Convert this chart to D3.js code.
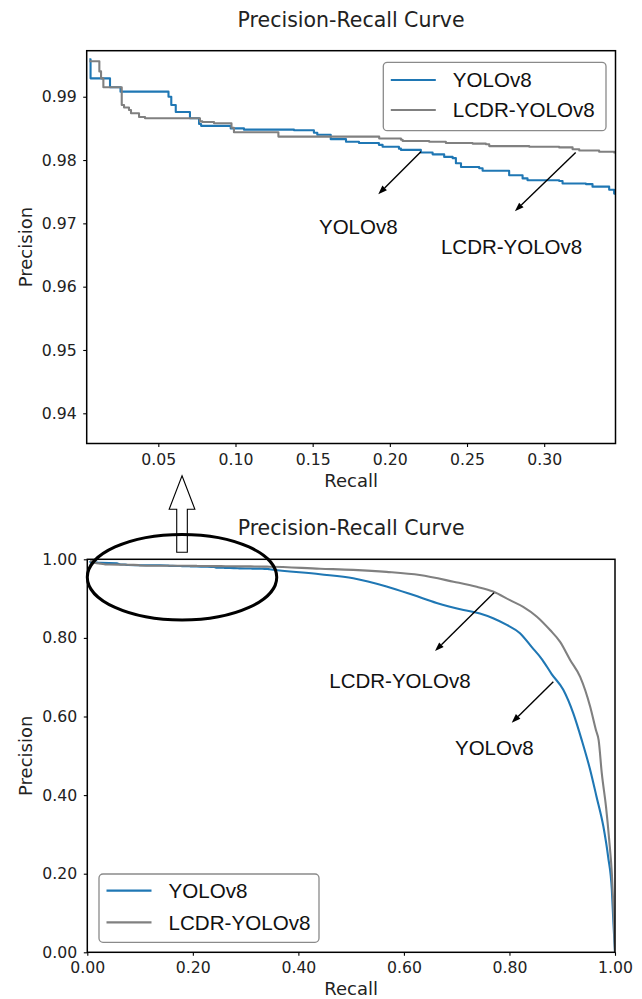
<!DOCTYPE html>
<html><head><meta charset="utf-8">
<script src="https://cdn.jsdelivr.net/npm/d3@7"></script>
<style>body{margin:0;background:#fff}svg{display:block}</style>
</head><body>
<svg id="c" width="642" height="999"></svg>
<script>
const seriesNames = ["YOLOv8", "LCDR-YOLOv8"];
const seriesColors = ["#1f77b4", "#808080"];

const yoloRecall = [0.0053,0.0061,0.0187,0.0255,0.0566,0.0584,0.0613,0.0705,0.0764,0.0777,0.0969,0.1055,0.1379,0.1508,0.1530,0.1617,0.1716,0.1800,0.1929,0.1953,0.2059,0.2072,0.2201,0.2277,0.2352,0.2407,0.2428,0.2461,0.2579,0.2601,0.2773,0.2860,0.2892,0.3097,0.3119,0.3270,0.3313,0.3421,0.3453,
  0.441,0.504,0.567,0.618,0.662,0.713,0.744,0.769,0.795,0.820,0.842,0.862,0.880,0.902,0.921,0.937,0.953,0.965,0.978,0.987,0.994,0.997,1.0];
const yoloPrecision = [0.9959,0.9929,0.9915,0.9908,0.9900,0.9887,0.9876,0.9866,0.9857,0.9854,0.9850,0.9848,0.9847,0.9843,0.9840,0.9833,0.9829,0.9827,0.9824,0.9821,0.9818,0.9816,0.9812,0.9809,0.9805,0.9803,0.9795,0.9789,0.9787,0.9783,0.9776,0.9771,0.9768,0.9767,0.9763,0.9762,0.9758,0.9753,0.9747,
  0.962,0.952,0.931,0.909,0.889,0.871,0.862,0.850,0.833,0.812,0.777,0.745,0.708,0.668,0.608,0.540,0.464,0.396,0.320,0.243,0.159,0.074,0.0];

const lcdrRecall = [0.0053,0.0118,0.0129,0.0144,0.0263,0.0278,0.0310,0.0323,0.0375,0.0414,0.0770,0.0785,0.0861,0.0974,0.0990,0.1278,0.1931,0.2072,0.2083,0.2255,0.2363,0.2536,0.2622,0.2644,0.2903,0.3097,0.3184,0.3227,0.3356,0.3453,
  0.441,0.504,0.567,0.630,0.694,0.738,0.769,0.801,0.826,0.852,0.877,0.896,0.915,0.934,0.953,0.964,0.969,0.975,0.983,0.989,0.994,0.997,1.0];
const lcdrPrecision = [0.9956,0.9940,0.9929,0.9915,0.9887,0.9883,0.9879,0.9874,0.9868,0.9866,0.9861,0.9860,0.9858,0.9851,0.9844,0.9837,0.9834,0.9832,0.9830,0.9829,0.9827,0.9826,0.9825,0.9822,0.9821,0.9820,0.9817,0.9815,0.9813,0.9812,
  0.976,0.973,0.968,0.960,0.943,0.930,0.918,0.896,0.879,0.854,0.820,0.790,0.744,0.701,0.625,0.565,0.540,0.455,0.370,0.286,0.201,0.116,0.0];

const topXTicks = [0.05, 0.10, 0.15, 0.20, 0.25, 0.30];
const topYTicks = [0.94, 0.95, 0.96, 0.97, 0.98, 0.99];
const fullTicks = [0.0, 0.2, 0.4, 0.6, 0.8, 1.0];

const titleText = "Precision-Recall Curve";
const xLabel = "Recall";
const yLabel = "Precision";

// annotations in data units: [recall, precision]
const topNotes = [
  {text: "YOLOv8", from: [0.2201, 0.9813], to: [0.1925, 0.9746], at: [0.1541, 0.9683]},
  {text: "LCDR-YOLOv8", from: [0.3204, 0.9812], to: [0.2810, 0.9719], at: [0.2331, 0.9652]}
];
const bottomNotes = [
  {text: "LCDR-YOLOv8", from: [0.7707, 0.9150], to: [0.6589, 0.7667], at: [0.4586, 0.6718]},
  {text: "YOLOv8", from: [0.8831, 0.6885], to: [0.8043, 0.5842], at: [0.6968, 0.5020]}
];
const zoomEllipse = {cx: 0.1795, cy: 0.9545, rx: 0.1795, ry: 0.1089};

const series = [
  {name: seriesNames[0], color: seriesColors[0], pts: yoloRecall.map((r, i) => [r, yoloPrecision[i]])},
  {name: seriesNames[1], color: seriesColors[1], pts: lcdrRecall.map((r, i) => [r, lcdrPrecision[i]])}
];

const svg = d3.select("#c");
const SANS = "DejaVu Sans";
const ARIAL = "Liberation Sans, Arial";

function arrow(g, x1, y1, x2, y2) {
  const ang = Math.atan2(y2 - y1, x2 - x1);
  const L = 9, W = 3.2;
  const bx = x2 - L * Math.cos(ang), by = y2 - L * Math.sin(ang);
  g.append("line").attr("x1", x1).attr("y1", y1).attr("x2", bx).attr("y2", by)
    .attr("stroke", "#000").attr("stroke-width", 1.4);
  const px = -Math.sin(ang) * W, py = Math.cos(ang) * W;
  g.append("path").attr("d", `M${x2},${y2}L${bx + px},${by + py}L${bx - px},${by - py}Z`)
    .attr("fill", "#000");
}

function panel(cfg) {
  const x = d3.scaleLinear().domain(cfg.xDom).range([cfg.left, cfg.right]);
  const y = d3.scaleLinear().domain(cfg.yDom).range([cfg.bottom, cfg.top]);
  const g = svg.append("g");
  const clipId = "clip" + cfg.id;
  g.append("clipPath").attr("id", clipId).append("rect")
    .attr("x", cfg.left).attr("y", cfg.top)
    .attr("width", cfg.right - cfg.left).attr("height", cfg.bottom - cfg.top);

  const line = d3.line().x(d => x(d[0])).y(d => y(d[1])).curve(cfg.curve);
  const lg = g.append("g").attr("clip-path", `url(#${clipId})`);
  series.forEach(s => {
    lg.append("path").attr("d", line(s.pts)).attr("fill", "none")
      .attr("stroke", s.color).attr("stroke-width", 2.1).attr("stroke-linejoin", "round");
  });

  // axes
  const xa = g.append("g").attr("transform", `translate(0,${cfg.bottom})`)
    .call(d3.axisBottom(x).tickValues(cfg.xTicks).tickFormat(d3.format(".2f")).tickSize(3.5).tickPadding(6.5));
  const ya = g.append("g").attr("transform", `translate(${cfg.left},0)`)
    .call(d3.axisLeft(y).tickValues(cfg.yTicks).tickFormat(d3.format(".2f")).tickSize(3.5).tickPadding(6.5));
  [xa, ya].forEach(a => {
    a.select(".domain").remove();
    a.selectAll("line").attr("stroke", "#000").attr("stroke-width", 1.1);
    a.selectAll("text").attr("font-family", SANS).attr("font-size", 15.7).attr("fill", "#222");
  });
  g.append("rect").attr("x", cfg.left).attr("y", cfg.top)
    .attr("width", cfg.right - cfg.left).attr("height", cfg.bottom - cfg.top)
    .attr("fill", "none").attr("stroke", "#000").attr("stroke-width", 1.5);

  // titles
  const cx = (cfg.left + cfg.right) / 2;
  g.append("text").attr("x", cx).attr("y", cfg.titleY).attr("text-anchor", "middle")
    .attr("font-family", SANS).attr("font-size", 20.5).attr("fill", "#222").text(titleText);
  g.append("text").attr("x", cx).attr("y", cfg.xLabelY).attr("text-anchor", "middle")
    .attr("font-family", SANS).attr("font-size", 18).attr("fill", "#222").text(xLabel);
  g.append("text").attr("transform", `translate(${cfg.yLabelX},${(cfg.top + cfg.bottom) / 2}) rotate(-90)`)
    .attr("text-anchor", "middle").attr("font-family", SANS).attr("font-size", 18).attr("fill", "#222").text(yLabel);

  // legend
  const L = cfg.legend;
  g.append("rect").attr("x", L.x).attr("y", L.y).attr("width", L.w).attr("height", L.h)
    .attr("rx", 4).attr("fill", "#fff").attr("stroke", "#8a8a8a").attr("stroke-width", 1.3);
  series.forEach((s, i) => {
    const yy = L.y + L.row0 + i * L.gap;
    g.append("line").attr("x1", L.x + 7.5).attr("x2", L.x + 52.5).attr("y1", yy).attr("y2", yy)
      .attr("stroke", s.color).attr("stroke-width", 2.2);
    g.append("text").attr("x", L.x + 69.5).attr("y", yy).attr("dy", "0.36em")
      .attr("font-family", ARIAL).attr("font-size", 20.6).attr("fill", "#111").text(s.name);
  });

  // annotations
  cfg.notes.forEach(n => {
    arrow(g, x(n.from[0]), y(n.from[1]), x(n.to[0]), y(n.to[1]));
    g.append("text").attr("x", x(n.at[0])).attr("y", y(n.at[1]))
      .attr("font-family", ARIAL).attr("font-size", 20.5).attr("fill", "#111").text(n.text);
  });
  return {x, y, g};
}

panel({
  id: "top", xDom: [0.0036, 0.3462], yDom: [0.93523, 0.99727],
  left: 86.7, right: 615.5, top: 50.7, bottom: 443.5,
  curve: d3.curveStepAfter, xTicks: topXTicks, yTicks: topYTicks,
  titleY: 27, xLabelY: 487, yLabelX: 31.5,
  legend: {x: 383.3, y: 62.3, w: 222.7, h: 68.4, row0: 17.7, gap: 30},
  notes: topNotes
});

const B = panel({
  id: "bot", xDom: [0, 1], yDom: [0, 1],
  left: 87.3, right: 615, top: 559.3, bottom: 952.3,
  curve: d3.curveMonotoneX, xTicks: fullTicks, yTicks: fullTicks,
  titleY: 535, xLabelY: 995, yLabelX: 31.5,
  legend: {x: 99, y: 874, w: 220, h: 68.3, row0: 16.7, gap: 31.6},
  notes: bottomNotes
});

// zoom ellipse and hollow arrow
const ex = B.x(zoomEllipse.cx), ey = B.y(zoomEllipse.cy);
const erx = B.x(zoomEllipse.rx) - B.x(0), ery = B.y(0) - B.y(zoomEllipse.ry);
svg.append("ellipse").attr("cx", ex).attr("cy", ey).attr("rx", erx).attr("ry", ery)
  .attr("fill", "none").attr("stroke", "#000").attr("stroke-width", 3);
const tipY = 475.7, baseY = 509.3, shaftBottom = ey - 24.9;
const hw = 12.85, sw = 5.3;
svg.append("path")
  .attr("d", `M${ex},${tipY}L${ex + hw},${baseY}L${ex + sw},${baseY}L${ex + sw},${shaftBottom}L${ex - sw},${shaftBottom}L${ex - sw},${baseY}L${ex - hw},${baseY}Z`)
  .attr("fill", "none").attr("stroke", "#000").attr("stroke-width", 1.1);
</script>
</body></html>
